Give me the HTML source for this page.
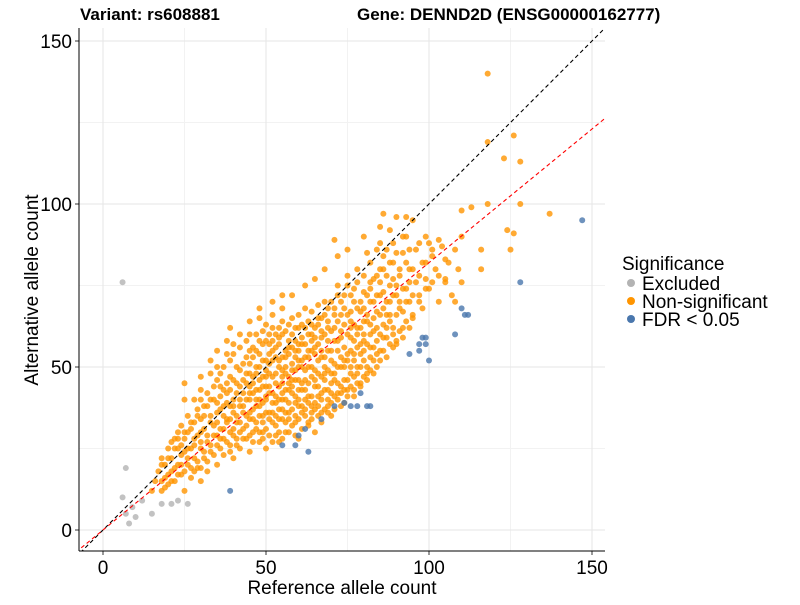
<!DOCTYPE html>
<html><head><meta charset="utf-8"><style>
body{margin:0;background:#fff;font-family:"Liberation Sans",Arial,sans-serif}
svg text{font-family:"Liberation Sans",Arial,sans-serif}
</style></head><body>
<svg id="c" width="800" height="600" xmlns="http://www.w3.org/2000/svg">
<defs><clipPath id="pc"><rect x="79" y="28" width="526" height="523"/></clipPath></defs>
<g id="grid"></g>
<g id="pts" clip-path="url(#pc)"></g>
<g id="lines" clip-path="url(#pc)"></g>
<g id="axes"></g>
<text x="80" y="20" font-size="17" font-weight="bold">Variant: rs608881</text>
<text x="357" y="20" font-size="17" font-weight="bold">Gene: DENND2D (ENSG00000162777)</text>
<text x="342" y="594" font-size="19" text-anchor="middle">Reference allele count</text>
<text transform="translate(38,290) rotate(-90)" font-size="19" text-anchor="middle">Alternative allele count</text>
<g>
<text x="622" y="270" font-size="19">Significance</text>
<circle cx="631" cy="283" r="4" fill="#b3b3b3"/>
<text x="642" y="290" font-size="19">Excluded</text>
<circle cx="631" cy="301" r="4" fill="#ff9500"/>
<text x="642" y="308" font-size="19">Non-significant</text>
<circle cx="631" cy="319" r="4" fill="#4a77ad"/>
<text x="642" y="326" font-size="19">FDR &lt; 0.05</text>
</g>
</svg>
<script>
const xTicks=[0,50,100,150];
const yTicks=[0,50,100,150];
const minorTicks=[25,75,125];
const excluded="6,76 7,19 6,10 9,7 8,2 10,4 7,5 15,5 12,9 18,8 21,8 23,9 26,8";
const fdr="39,12 55,26 59,26 63,24 60,29 62,31 67,34 71,38 74,39 76,38 78,38 79,42 81,38 82,38 94,54 97,57 97,55 98,59 99,59 99,57 100,52 108,60 110,68 111,66 112,66 128,76 147,95";
const nonsig="118,140 126,121 123,114 128,113 118,119 113,99 110,98 118,100 128,100 137,97 124,92 126,91 116,86 116,80 125,86 110,90 105,83 105,77 108,70 "+
"15,12 16,15 17,18 18,12 18,20 19,16 20,14 20,22 21,18 22,25 22,15 23,20 23,28 24,17 24,23 25,12 25,30 26,20 26,25 27,16 27,33 28,22 28,28 29,19 29,35 30,25 30,15 30,30 31,22 31,38 32,27 32,18 33,33 33,24 34,29 34,40 35,20 35,36 35,26 36,31 36,44 37,23 37,38 37,28 38,34 38,42 39,26 39,30 39,47 40,36 40,22 40,40 41,33 41,28 41,50 42,38 42,44 42,25 43,31 43,36 43,46 44,40 44,28 44,53 45,34 45,42 45,48 45,24 46,37 46,30 46,45 46,56 47,40 47,33 47,50 48,27 48,43 48,38 48,58 49,35 49,47 49,30 50,40 50,52 50,44 50,25 51,36 51,48 51,60 52,33 52,42 52,55 53,29 53,45 53,39 54,50 54,37 54,62 54,27 55,42 55,47 55,34 56,53 56,40 56,30 57,45 57,58 57,36 58,49 58,42 58,65 59,33 59,55 59,39 60,46 60,52 60,28 60,62 61,43 61,36 61,57 62,49 62,40 62,68 63,53 63,33 63,45 64,60 64,38 64,50 65,44 65,56 65,30 66,48 66,65 66,41 67,53 67,36 67,59 68,46 68,70 68,50 69,40 69,62 69,55 70,45 70,52 70,35 71,58 71,66 71,48 72,42 72,55 72,72 73,50 73,61 73,38 74,46 74,68 74,56 75,52 75,43 75,75 76,59 76,64 76,48 77,54 77,70 77,41 78,62 78,50 78,80 79,57 79,67 79,45 80,52 80,73 80,60 81,64 81,48 81,85 82,70 82,56 82,76 83,61 83,52 84,67 84,78 84,58 85,72 85,55 85,88 86,63 86,80 87,70 87,59 88,75 88,66 88,92 89,62 89,82 90,72 90,57 91,78 91,68 92,85 92,62 93,74 93,90 94,70 94,80 95,66 95,95 96,76 96,86 97,72 98,82 98,68 99,77 100,88 100,74 101,84 102,80 103,70 104,87 105,76 106,82 107,72 108,86 109,80 110,76";
const nonsigColumns="18:15,22;19:13,20;20:17,25;21:15,22,27;22:19,28;23:17,25,30;24:20,26,32;25:18,24,28,40,45;26:22,30,35;27:19,25,31;"+
"28:18,26,33,40;29:21,29,37;30:19,27,34,40,43,47;31:24,31,35;32:21,29,38,42;33:26,35,40,48,52;34:23,32,44;35:29,33,39,46,50,55;36:25,28,37,41,48;37:31,35,43,50;38:27,33,39,45,54,58;39:24,34,38,43,52,62;40:29,31,38,46,54,57;41:26,35,42,45;42:30,33,40,49,56,60;43:28,38,42,51;44:32,35,45,48,58;45:29,36,40,44,51,55,60,64;46:27,34,42,47,53;47:31,38,43,48,55,60;48:30,35,40,46,50,54,65,68;49:28,33,39,44,52,57,61;50:31,36,41,47,49,58,63;"+
"51:29,34,42,44,51,54,57;52:27,36,39,47,52,58,62,66,70;53:32,35,41,48,53,56,60;54:30,34,40,44,52,57,59;55:28,37,40,45,49,53,60,64,68,72;56:33,36,43,48,50,55,61;57:30,34,39,43,47,54,56,63;58:32,37,44,46,51,56,60,72;59:29,35,41,46,49,53,58,62;60:34,38,40,43,50,55,57,66;61:31,38,45,50,52,59,63;62:35,37,43,46,53,57,62,75;63:32,39,41,50,55,60,64;64:34,36,41,47,55,58,63,67;65:37,39,46,49,54,59,62,77;66:35,38,44,52,57,63,69;67:33,40,42,47,55,61,65;68:37,43,48,53,60,66,80;69:36,38,43,49,58,64,68;70:39,42,48,55,61,70;"+
"71:37,41,46,51,62,68,89;72:40,45,50,58,64,75,84;73:42,44,53,59,66,70;74:39,43,50,52,63,72;75:41,46,54,60,66,78,86;76:44,50,55,62,67,72;77:43,47,52,58,63,74;78:45,48,56,60,68,76;79:44,50,54,62,70;80:47,55,58,64,68,78,90;81:46,50,57,66,72;82:49,53,60,63,74,82;83:48,56,65,70,77;84:50,54,62,72,86;85:52,60,66,76,80,93;86:55,59,68,73,84,97;87:53,62,66,78,86;88:57,64,70,82;89:56,60,72,77,88;90:58,66,75,85,96;91:61,70,80;92:59,67,74,90;93:64,70,82,96;94:62,76,86;95:65,72,80;97:70,78,88;99:74,82,90;101:76,86;103:78,89";
const redSlope=0.82;

const X=v=>103+v*3.26, Y=v=>530-v*3.26;
const NS="http://www.w3.org/2000/svg";
function mk(tag,attrs,parent){const e=document.createElementNS(NS,tag);for(const k in attrs)e.setAttribute(k,attrs[k]);parent.appendChild(e);return e;}
const grid=document.getElementById('grid'),axes=document.getElementById('axes'),lines=document.getElementById('lines'),pts=document.getElementById('pts');
minorTicks.forEach(t=>{
  let a=mk('line',{x1:X(t),x2:X(t),y1:28,y2:551,stroke:'#f2f2f2','stroke-width':1},grid);
  
  
  let b=mk('line',{x1:79,x2:605,y1:Y(t),y2:Y(t),stroke:'#f2f2f2','stroke-width':1},grid);
  
  
});
xTicks.forEach(t=>{
  let g=mk('line',{x1:X(t),x2:X(t),y1:28,y2:551,stroke:'#e6e6e6','stroke-width':1},grid);
  
  
  let tk=mk('line',{x1:X(t),x2:X(t),y1:551,y2:555,stroke:'#333'},axes);
  
  
  let tx=mk('text',{x:X(t),y:574,'font-size':19,'text-anchor':'middle',fill:'#000'},axes);
  tx.textContent=t;
  
  
});
yTicks.forEach(t=>{
  let g=mk('line',{x1:79,x2:605,y1:Y(t),y2:Y(t),stroke:'#e6e6e6','stroke-width':1},grid);
  
  
  let tk=mk('line',{x1:75,x2:79,y1:Y(t),y2:Y(t),stroke:'#333'},axes);
  
  
  let tx=mk('text',{x:72,y:Y(t)+7,'font-size':19,'text-anchor':'end',fill:'#000'},axes);
  tx.textContent=t;
  
  
});
let ax=mk('line',{x1:79,x2:605,y1:551,y2:551,stroke:'#000','stroke-width':1},axes);


let ay=mk('line',{x1:79,x2:79,y1:28,y2:551,stroke:'#000','stroke-width':1},axes);


function dot(a,b,color,name){
  const c=mk('circle',{cx:X(a),cy:Y(b),r:3,fill:color,'fill-opacity':0.8},pts);
  
  
}
function draw(str,color,name){
  str.trim().split(/\s+/).forEach(p=>{
    const [a,b]=p.split(',').map(Number);
    dot(a,b,color,name);
  });
}
function drawCols(str,color,name){
  str.split(';').forEach(col=>{
    if(!col)return;
    const [xs,ys]=col.split(':');
    ys.split(',').forEach(y=>dot(Number(xs),Number(y),color,name));
  });
}
draw(excluded,'#b3b3b3','point-excluded');
draw(nonsig,'#ff9500','point-nonsignificant');
drawCols(nonsigColumns,'#ff9500','point-nonsignificant');
draw(fdr,'#4a77ad','point-fdr');
let l1=mk('line',{x1:X(-10),y1:Y(-10),x2:X(200),y2:Y(200),stroke:'#000','stroke-dasharray':'4,3','stroke-width':1.1},lines);


let l2=mk('line',{x1:X(-10),y1:Y(-10*redSlope),x2:X(200),y2:Y(200*redSlope),stroke:'#ff0000','stroke-dasharray':'4,3','stroke-width':1.1},lines);


</script>
</body></html>
